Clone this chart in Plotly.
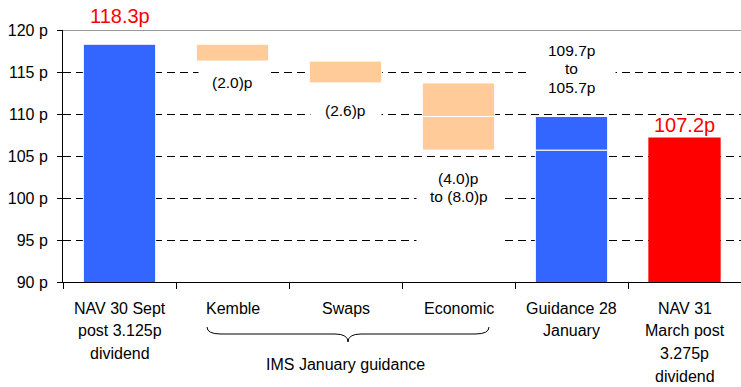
import plotly.graph_objects as go

# ---- data ----
categories = ["NAV 30 Sept post 3.125p dividend", "Kemble", "Swaps", "Economic",
              "Guidance 28 January", "NAV 31 March post 3.275p dividend"]
category_lines = [["NAV 30 Sept", "post 3.125p", "dividend"], ["Kemble"], ["Swaps"],
                  ["Economic"], ["Guidance 28", "January"],
                  ["NAV 31", "March post", "3.275p", "dividend"]]
nav_start = 118.3
kemble = 2.0
swaps = 2.6
economic_low = 4.0
economic_high = 8.0
guidance_high = 109.7
guidance_low = 105.7
nav_end = 107.2
y_ticks = [90, 95, 100, 105, 110, 115, 120]
y_tick_text = [f"{v} p" for v in y_ticks]
group_label = "IMS January guidance"

BLUE = "#3366FF"
ORANGE = "#FFCC99"
RED = "#FF0000"
FONT = "Liberation Sans, Arial, sans-serif"

after_kemble = nav_start - kemble
after_swaps = after_kemble - swaps
econ_mid = after_swaps - economic_low
econ_bottom = after_swaps - economic_high

W, H = 741, 387
ML, MR, MT, MB = 63, 0, 30, 105
PW, PH = W - ML - MR, H - MT - MB

def xp(px):
    return (px - ML) / PW

def yp(py):
    return (H - MB - py) / PH

fig = go.Figure()
bw = 0.64
fig.add_trace(go.Bar(x=[categories[0], categories[4]], y=[nav_start, guidance_low], base=[0, 0],
                     width=bw, marker=dict(color=BLUE, line=dict(color="white", width=1)),
                     hoverinfo="skip", showlegend=False))
fig.add_trace(go.Bar(x=[categories[4]], y=[guidance_high - guidance_low], base=[guidance_low],
                     width=bw, marker=dict(color=BLUE, line=dict(color="white", width=1)),
                     hoverinfo="skip", showlegend=False))
fig.add_trace(go.Bar(x=[categories[1], categories[2], categories[3], categories[3]],
                     y=[kemble, swaps, economic_low, economic_high - economic_low],
                     base=[after_kemble, after_swaps, econ_mid, econ_bottom],
                     width=bw, marker=dict(color=ORANGE, line=dict(color="white", width=1)),
                     hoverinfo="skip", showlegend=False))
fig.add_trace(go.Bar(x=[categories[5]], y=[nav_end], base=[0], width=bw,
                     marker=dict(color=RED, line=dict(color=RED, width=0)),
                     hoverinfo="skip", showlegend=False))

ann = []
ann.append(dict(x=categories[0], y=120, xref="x", yref="y", text=f"{nav_start:.1f}p",
                showarrow=False, yanchor="middle", yshift=14.5,
                font=dict(family=FONT, size=20, color=RED)))
ann.append(dict(x=categories[5], y=nav_end, xref="x", yref="y", text=f"{nav_end:.1f}p",
                showarrow=False, yanchor="bottom", yshift=0,
                font=dict(family=FONT, size=20, color=RED)))

def box_label(cat, lines, top_px, height, width, first_center_px, spacing=18.7):
    ann.append(dict(x=cat, xref="x", y=yp(top_px), yref="paper", text=" ",
                    showarrow=False, yanchor="top", width=width, height=height,
                    bgcolor="white", borderpad=0, font=dict(family=FONT, size=10)))
    for i, line in enumerate(lines):
        ann.append(dict(x=cat, xref="x", y=yp(first_center_px + spacing * i), yref="paper",
                        text=line, showarrow=False, yanchor="middle",
                        font=dict(family=FONT, size=15.5, color="black")))

box_label(categories[1], [f"({kemble:.1f})p"], 67, 32, 68, 82.5)
box_label(categories[2], [f"({swaps:.1f})p"], 97, 26, 70, 110)
box_label(categories[3], [f"({economic_low:.1f})p", f"to ({economic_high:.1f})p"], 167, 78, 83, 178)
box_label(categories[4], [f"{guidance_high:.1f}p", "to", f"{guidance_low:.1f}p"], 38, 62, 87, 50)

for cat, lines in zip(categories, category_lines):
    for i, line in enumerate(lines):
        ann.append(dict(x=cat, xref="x", y=0, yref="paper", text=line, showarrow=False,
                        yanchor="middle", yshift=-(26 + 22.7 * i),
                        font=dict(family=FONT, size=16, color="black")))

ann.append(dict(x=xp(345), xref="paper", y=0, yref="paper", text=group_label, showarrow=False,
                yanchor="middle", yshift=-82, font=dict(family=FONT, size=16, color="black")))

pts = [(207, 327), (207, 334), (221, 334), (335, 334), (348, 334), (348, 342),
       (348, 334), (361, 334), (475, 334), (489, 334), (489, 327)]
P = [(xp(a), yp(b)) for a, b in pts]
path = (f"M {P[0][0]},{P[0][1]} Q {P[1][0]},{P[1][1]} {P[2][0]},{P[2][1]} "
        f"L {P[3][0]},{P[3][1]} Q {P[4][0]},{P[4][1]} {P[5][0]},{P[5][1]} "
        f"Q {P[6][0]},{P[6][1]} {P[7][0]},{P[7][1]} "
        f"L {P[8][0]},{P[8][1]} Q {P[9][0]},{P[9][1]} {P[10][0]},{P[10][1]}")

shapes = [
    dict(type="path", path=path, xref="paper", yref="paper",
         line=dict(color="black", width=1)),
    dict(type="line", xref="paper", x0=0, x1=1, yref="y", y0=120, y1=120,
         line=dict(color="#999999", width=2), layer="above"),
]

fig.update_layout(
    width=W, height=H, margin=dict(l=ML, r=MR, t=MT, b=MB, pad=0),
    paper_bgcolor="white", plot_bgcolor="white", barmode="overlay",
    annotations=ann, shapes=shapes,
    font=dict(family=FONT, size=16, color="black"),
    xaxis=dict(type="category", categoryorder="array", categoryarray=categories,
               range=[-0.5, 5.5], tickson="boundaries", ticks="outside", ticklen=6,
               tickcolor="black", showticklabels=False, showgrid=False,
               showline=True, linecolor="black", linewidth=1, fixedrange=True),
    yaxis=dict(range=[90, 120], tickmode="array", tickvals=y_ticks, ticktext=y_tick_text,
               ticks="outside", ticklen=5, tickcolor="black", showline=True,
               linecolor="black", linewidth=1, ticklabelstandoff=6,
               showgrid=True, gridcolor="black", gridwidth=1, griddash="8px,5px",
               zeroline=False, tickfont=dict(family=FONT, size=16, color="black"),
               fixedrange=True),
)

fig.write_html("out.html")
